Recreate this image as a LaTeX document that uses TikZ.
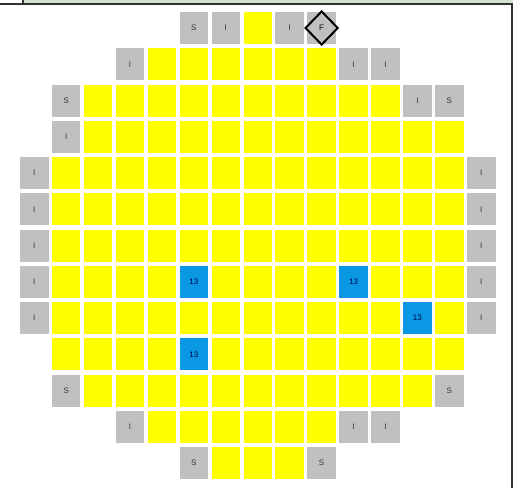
\documentclass[tikz,border=0pt]{standalone}
\usepackage{fontspec}
\setsansfont{Liberation Sans}
\usetikzlibrary{shapes.geometric}

\definecolor{fuelyellow}{RGB}{255,255,0}
\definecolor{slotgray}{RGB}{192,192,192}
\definecolor{rodblue}{RGB}{10,152,228}
\definecolor{framegreen}{RGB}{208,226,208}
\definecolor{framedark}{RGB}{50,50,50}

\tikzset{
  cellbox/.style={inner sep=0pt, minimum width=28.5pt, minimum height=32pt,
    font=\sffamily\fontsize{8}{9}\selectfont},
  fuel/.style={cellbox, fill=fuelyellow},
  slot/.style={cellbox, fill=slotgray, text=black!80},
  rod/.style={cellbox, fill=rodblue, text=blue!30!black},
  source/.style={diamond, draw=black, line width=2pt, inner sep=0pt,
    minimum width=33pt, minimum height=34pt, font=\sffamily\fontsize{8}{9}\selectfont}
}

% blue positions (row-col)
\expandafter\def\csname rod7-5\endcsname{}
\expandafter\def\csname rod7-10\endcsname{}
\expandafter\def\csname rod8-12\endcsname{}
\expandafter\def\csname rod9-5\endcsname{}

\begin{document}
\begin{tikzpicture}[x=1pt, y=-1pt]
\useasboundingbox (0,0) rectangle (513,488);

% frame
\fill[framegreen] (23,0) rectangle (513,4);
\draw[framedark, line width=1.2pt] (0,4) -- (513,4);
\draw[framedark, line width=1.2pt] (23,0) -- (23,4);
\draw[framedark, line width=1.6pt] (512,4) -- (512,488);

% core cells
\foreach \r/\a/\b in {0/7/7, 1/4/9, 2/2/11, 3/2/13, 4/1/13, 5/1/13, 6/1/13,
                      7/1/13, 8/1/13, 9/1/13, 10/2/12, 11/4/9, 12/6/8}
  \foreach \c in {\a,...,\b} {
    \ifcsname rod\r-\c\endcsname
      \node[rod] (c-\r-\c) at ({34.25+31.93*\c},{28+36.25*\r}) {13};
    \else
      \node[fuel] (c-\r-\c) at ({34.25+31.93*\c},{28+36.25*\r}) {};
    \fi
  }

% gray slots
\foreach \r/\c/\t in {0/5/S, 0/6/I, 0/8/I, 0/9/{},
                      1/3/I, 1/10/I, 1/11/I,
                      2/1/S, 2/12/I, 2/13/S,
                      3/1/I,
                      4/0/I, 4/14/I, 5/0/I, 5/14/I, 6/0/I, 6/14/I,
                      7/0/I, 7/14/I, 8/0/I, 8/14/I,
                      10/1/S, 10/13/S,
                      11/3/I, 11/10/I, 11/11/I,
                      12/5/S, 12/9/S}
  \node[slot] (s-\r-\c) at ({34.25+31.93*\c},{28+36.25*\r}) {\t};

% source marker
\node[source] (src) at (s-0-9) {F};
\end{tikzpicture}
\end{document}
